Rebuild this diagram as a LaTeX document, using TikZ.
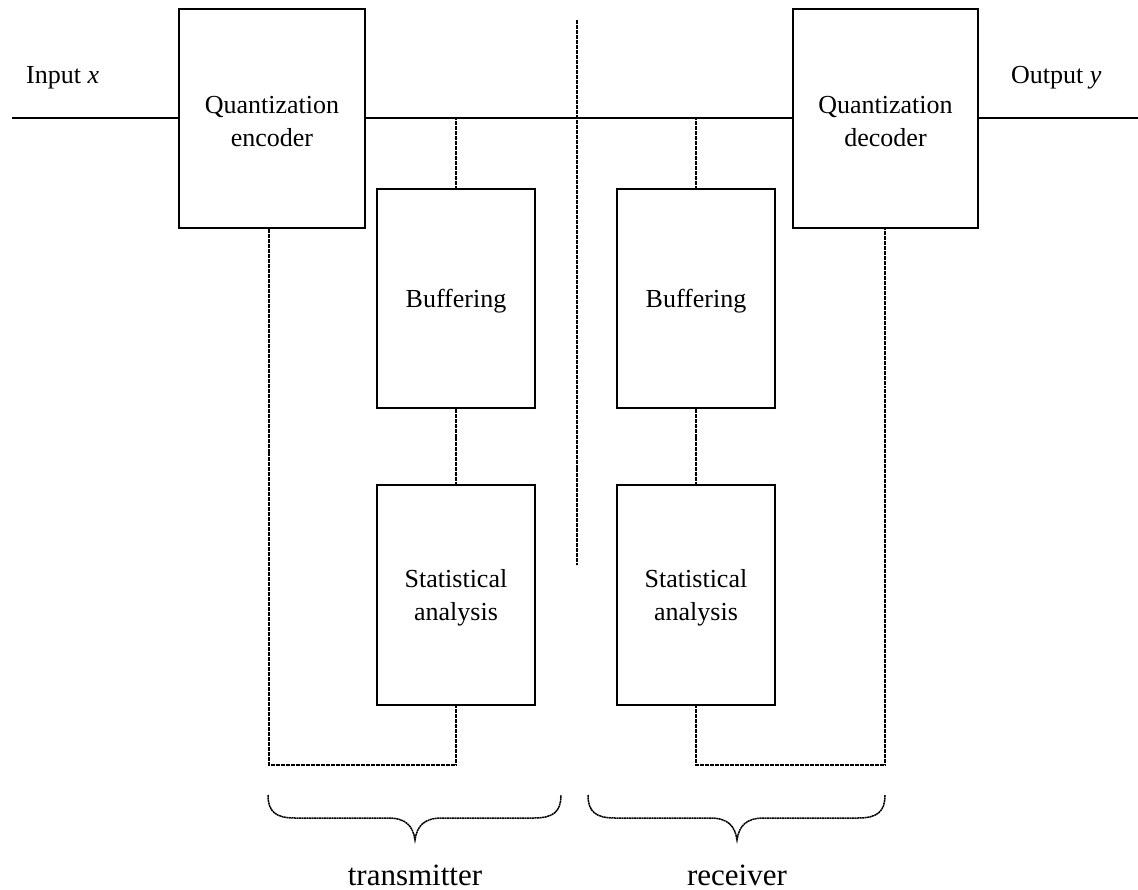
\documentclass[tikz,border=0pt]{standalone}
\usepackage{fontspec}
\setmainfont{Liberation Serif}
\begin{document}
\begin{tikzpicture}[x=1pt,y=-1pt,
  blk/.style={draw, line width=2pt, inner sep=0pt},
  txt/.style={inner sep=0pt, align=center, yshift=-3pt,
    font=\fontsize{26pt}{33pt}\selectfont},
  lbl/.style={inner sep=0pt, font=\fontsize{26pt}{31pt}\selectfont},
  big/.style={inner sep=0pt, font=\fontsize{31pt}{36pt}\selectfont},
  sig/.style={line width=2pt},
  fine/.style={line width=1.5pt, dash pattern=on 2pt off 0.5pt}]
\fill[white] (0,0) rectangle (1138,890);
\useasboundingbox (0,0) rectangle (1138,890);

% blocks
\node[blk, minimum width=186pt, minimum height=219pt,
  label={[txt]center:{Quantization\\encoder}}] (qe) at (272,118.5) {};
\node[blk, minimum width=185pt, minimum height=219pt,
  label={[txt]center:{Quantization\\decoder}}] (qd) at (885.5,118.5) {};
\node[blk, minimum width=158pt, minimum height=219pt,
  label={[txt]center:Buffering}] (buf1) at (456,298.5) {};
\node[blk, minimum width=158pt, minimum height=220pt,
  label={[txt]center:{Statistical\\analysis}}] (sa1) at (456,595) {};
\node[blk, minimum width=158pt, minimum height=219pt,
  label={[txt]center:Buffering}] (buf2) at (696,298.5) {};
\node[blk, minimum width=158pt, minimum height=220pt,
  label={[txt]center:{Statistical\\analysis}}] (sa2) at (696,595) {};

% labels
\node[lbl, anchor=base west] (inlbl) at (26,84) {Input \textit{x}};
\node[lbl, anchor=base west] (outlbl) at (1011,84) {Output \textit{y}};
\node[big, anchor=base] (tx) at (415,885) {transmitter};
\node[big, anchor=base] (rx) at (737,885) {receiver};

% coordinates
\coordinate (in) at (12,118.5);
\coordinate (out) at (1138,118.5);
\coordinate (divtop) at (577,20);
\coordinate (divbot) at (577,565);
\coordinate (lcorner1) at (269,765);
\coordinate (rcorner2) at (885,765);

% main signal line
\draw[sig] (in) -- (qe.west);
\draw[sig] (qe.east) -- (qd.west);
\draw[sig] (qd.east) -- (out);

% taps and links
\draw[fine] (buf1.north |- qe.east) -- (buf1.north);
\draw[fine] (buf1.south) -- (sa1.north);
\draw[fine] (buf2.north |- qd.west) -- (buf2.north);
\draw[fine] (buf2.south) -- (sa2.north);

% feedback loops
\draw[fine] (qe.south -| lcorner1) -- (lcorner1) -- (sa1.south |- lcorner1) -- (sa1.south);
\draw[fine] (sa2.south) -- (sa2.south |- rcorner2) -- (rcorner2) -- (qd.south -| rcorner2);

% divider
\draw[fine] (divtop) -- (divbot);

% braces
\draw[fine] (268,795) .. controls (268,812) and (276,818) .. (295,818)
  -- (388,818) .. controls (406,818) and (413,826) .. (415,840)
  .. controls (417,826) and (424,818) .. (442,818)
  -- (534,818) .. controls (553,818) and (561,812) .. (561,795);
\draw[fine] (588,795) .. controls (588,812) and (596,818) .. (615,818)
  -- (710,818) .. controls (728,818) and (735,826) .. (737,840)
  .. controls (739,826) and (746,818) .. (764,818)
  -- (858,818) .. controls (877,818) and (885,812) .. (885,795);
\end{tikzpicture}
\end{document}
